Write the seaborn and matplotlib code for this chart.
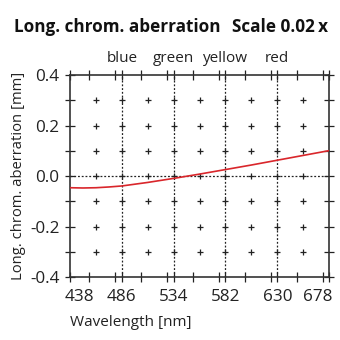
import numpy as np
import pandas as pd
import matplotlib
matplotlib.use("Agg")
import matplotlib.pyplot as plt
import matplotlib.transforms as mtrans
import seaborn as sns
from matplotlib.ticker import MultipleLocator

# Data
wavelength = [438, 450, 462, 474, 486, 510, 534, 558, 582, 606, 630, 654, 678]
aberration = [-0.046, -0.047, -0.046, -0.043, -0.039, -0.025, -0.009, 0.008, 0.026, 0.044, 0.063, 0.082, 0.101]
x_ticks = [438, 486, 534, 582, 630, 678]
color_names = ["blue", "green", "yellow", "red"]
color_positions = [486, 534, 582, 630]
y_ticks = [-0.4, -0.2, 0.0, 0.2, 0.4]

sns.set_theme(style="white")
plt.rcParams["font.family"] = ["Open Sans", "DejaVu Sans"]

fig = plt.figure(figsize=(3.4, 3.4), dpi=100)
ax = fig.add_axes([0.206, 0.185, 0.762, 0.594])

df = pd.DataFrame({"Wavelength": wavelength, "Aberration": aberration})

# grid crosses
gx = np.arange(x_ticks[0] + 24, x_ticks[-1], 24)
gy = np.round(np.arange(-0.3, 0.31, 0.1), 2)
GX, GY = np.meshgrid(gx, gy)
ax.plot(GX.ravel(), GY.ravel(), linestyle="none", marker="+", color="#222222",
        markersize=5, markeredgewidth=0.9, zorder=1)

# dotted lines
for xp in color_positions:
    ax.axvline(xp, color="#222222", linestyle=(0, (1.5, 1.5)), linewidth=0.9, zorder=1)
ax.axhline(0, color="#222222", linestyle=(0, (1.5, 1.5)), linewidth=0.9, zorder=1)

sns.lineplot(data=df, x="Wavelength", y="Aberration", ax=ax, color="#d9262b",
             linewidth=1.2, zorder=3)

ax.set_xlim(x_ticks[0], x_ticks[-1])
ax.set_ylim(-0.4, 0.4)
ax.set_xticks(x_ticks)
ax.set_xticklabels([str(v) for v in x_ticks])
ax.xaxis.set_minor_locator(MultipleLocator(24))
ax.set_yticks(y_ticks)
ax.set_yticklabels([f"{v:.1f}" for v in y_ticks])
ax.yaxis.set_minor_locator(MultipleLocator(0.1))
ax.tick_params(which="both", direction="inout", length=7, width=0.9, color="#222222",
               top=True, right=True, bottom=True, left=True)
ax.tick_params(which="major", labelsize=12.3, labelcolor="#222222")
ax.tick_params(axis="y", which="major", pad=4)
ax.tick_params(axis="x", which="major", pad=5)
for s in ax.spines.values():
    s.set_color("#333333")
    s.set_linewidth(1.2)

# nudge the end x tick labels inward, as in the reference
xlabels = ax.get_xticklabels()
xlabels[0].set_transform(xlabels[0].get_transform() + mtrans.ScaledTranslation(9 / 100, 0, fig.dpi_scale_trans))
xlabels[-1].set_transform(xlabels[-1].get_transform() + mtrans.ScaledTranslation(-11 / 100, 0, fig.dpi_scale_trans))

ax.set_xlabel("Wavelength [nm]", fontsize=11, color="#222222", labelpad=7, loc="left")
ax.set_ylabel("Long. chrom. aberration [mm]", fontsize=10.6, color="#222222", labelpad=3)

for name, xp in zip(color_names, color_positions):
    ax.text(xp, 1.045, name, transform=ax.get_xaxis_transform(), ha="center",
            va="bottom", fontsize=11, color="#222222")

fig.text(0.04, 0.92, "Long. chrom. aberration", fontsize=12.3, fontweight="bold",
         ha="left", va="center", color="#111111")
fig.text(0.965, 0.92, "Scale 0.02\u2009x", fontsize=12.3, fontweight="bold",
         ha="right", va="center", color="#111111")

fig.savefig("out.png", dpi=100)
